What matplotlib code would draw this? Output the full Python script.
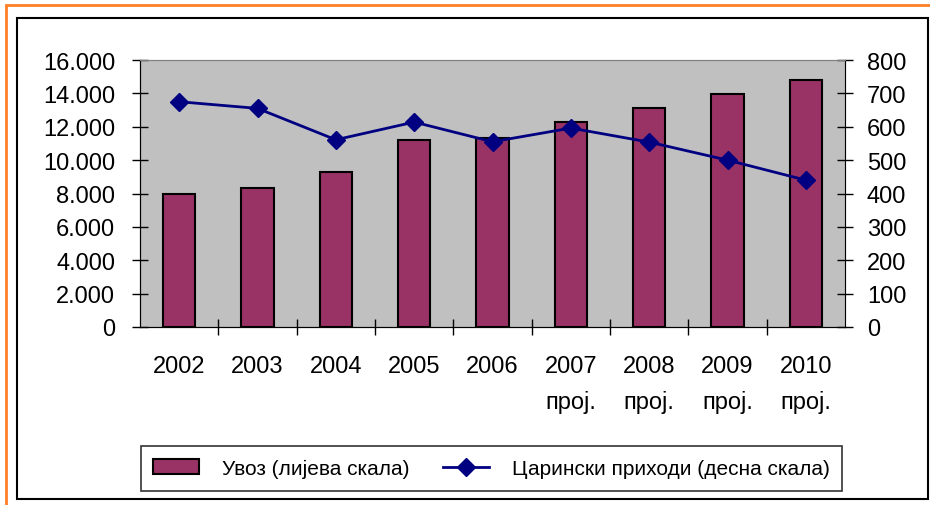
import matplotlib.pyplot as plt
from matplotlib.patches import Rectangle
from matplotlib.ticker import FuncFormatter

plt.rcParams['font.family'] = ['Liberation Sans', 'DejaVu Sans']

# values
years = ['2002', '2003', '2004', '2005', '2006', '2007\nпрој.', '2008\nпрој.', '2009\nпрој.', '2010\nпрој.']
imports = [8000, 8330, 9300, 11230, 11330, 12300, 13120, 13980, 14800]
customs = [675, 655, 561, 614, 555, 596, 554, 500, 440]

bar_color = '#993366'
line_color = '#000080'

fig = plt.figure(figsize=(9.3, 5.06), dpi=100)
ax = fig.add_axes([140 / 930, 1 - 328 / 506, 705 / 930, 267 / 506])
ax.set_facecolor('#C0C0C0')

x = list(range(len(years)))
bars = ax.bar(x, imports, width=0.41, color=bar_color, edgecolor='black', linewidth=1.5,
              label='Увоз (лијева скала)')
ax.set_xlim(-0.5, len(years) - 0.5)
ax.set_ylim(0, 16000)
ax.set_yticks(range(0, 16001, 2000))
ax.yaxis.set_major_formatter(FuncFormatter(lambda v, p: f'{int(v):,}'.replace(',', '.')))

ax.set_xticks(x)
ax.set_xticklabels(years, linespacing=1.75)
ax.set_xticks([i + 0.5 for i in x[:-1]], minor=True)
ax.tick_params(axis='x', which='major', length=0, pad=20, labelsize=17)
ax.tick_params(axis='x', which='minor', direction='inout', length=12, width=1)
ax.tick_params(axis='y', direction='inout', length=11.5, width=1, pad=12, labelsize=17)
ax.spines['top'].set_color('#808080')
ax.spines['right'].set_color('#808080')

ax2 = ax.twinx()
ln, = ax2.plot(x, customs, color=line_color, linewidth=2, marker='D', markersize=9,
               label='Царински приходи (десна скала)')
ax2.set_ylim(0, 800)
ax2.set_yticks(range(0, 801, 100))
ax2.tick_params(axis='y', direction='inout', length=11.5, width=1, pad=10, labelsize=17)
ax2.spines['right'].set_color('black')
ax2.spines['top'].set_color('#808080')

# legend box
leg = fig.legend([bars, ln], [bars.get_label(), ln.get_label()], ncol=2, loc='center',
                 bbox_to_anchor=((141 + 842) / 2 / 930, 1 - 469.5 / 506),
                 frameon=True, fancybox=False, edgecolor='black', fontsize=15,
                 handlelength=2.2, handletextpad=1.1, columnspacing=1.6,
                 borderpad=0.6)
leg.get_frame().set_linewidth(1.2)

# outer frames
fig.patches.append(Rectangle((17 / 930, 1 - 500 / 506), 911 / 930, 481 / 506, fill=False,
                             edgecolor='black', linewidth=1.5, transform=fig.transFigure))
fig.patches.append(Rectangle((6 / 930, -0.05), 1.0, 1.05 - 6 / 506, fill=False,
                             edgecolor='#FF7F27', linewidth=2, transform=fig.transFigure))

fig.savefig('out.png', dpi=100)
